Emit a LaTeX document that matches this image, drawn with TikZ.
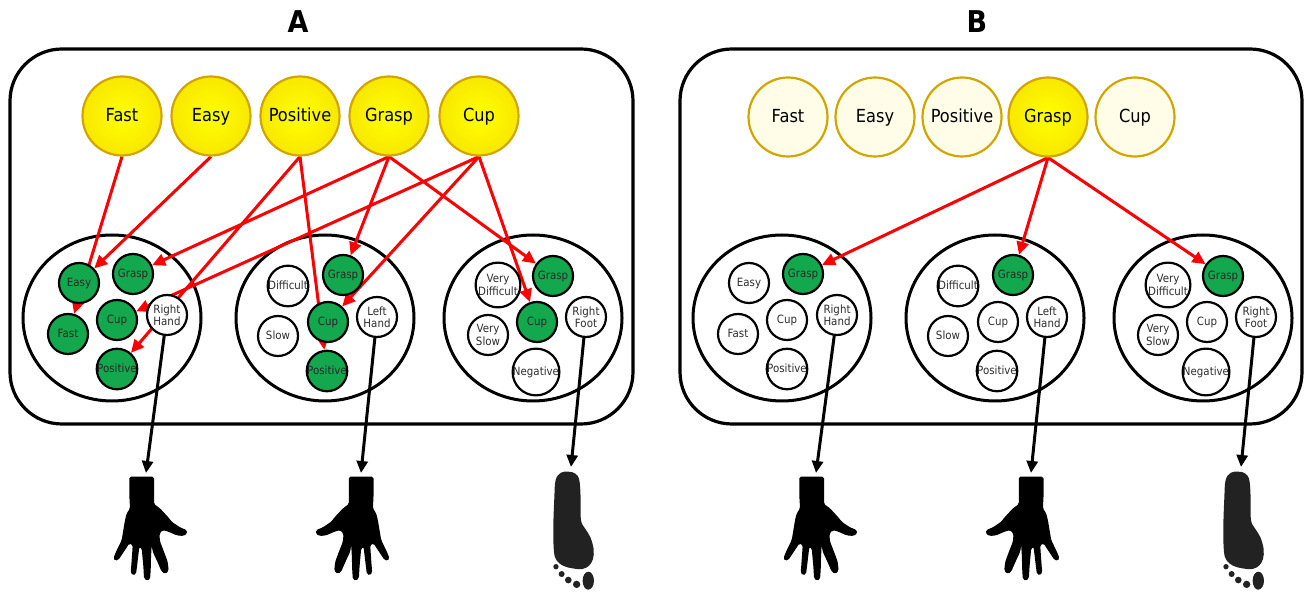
\documentclass[tikz,border=0pt]{standalone}
\usepackage{fontspec}
\setmainfont{DejaVu Sans}[FakeStretch=0.9]
\usetikzlibrary{arrows.meta,shapes.geometric}
\pgfdeclarelayer{back}
\pgfdeclarelayer{mid}
\pgfsetlayers{back,mid,main}
\definecolor{ygold}{RGB}{210,165,0}
\definecolor{yfill}{RGB}{255,255,0}
\definecolor{yedge}{RGB}{248,232,0}
\definecolor{yfade}{RGB}{255,253,232}
\definecolor{gfill}{RGB}{20,168,78}
\definecolor{tgray}{RGB}{45,45,45}
\definecolor{footgray}{RGB}{34,34,34}
\tikzset{
  bigball/.style={circle, draw=ygold, line width=1.1pt, minimum size=39.5pt, inner sep=0pt,
    font=\fontsize{9}{10}\selectfont, text=black, text height=6.6pt, text depth=0.6pt},
  hotball/.style={bigball, inner color=yfill, outer color=yedge},
  fadeball/.style={bigball, fill=yfade},
  smallball/.style={circle, draw=black, line width=1.1pt, minimum size=20pt, inner sep=0pt,
    align=center, font=\fontsize{5.7}{6.1}\selectfont, text=tgray, fill=white},
  oneline/.style={text height=4.1pt, text depth=0.5pt},
  onball/.style={smallball, oneline, fill=gfill, text=black!85},
  redarrow/.style={draw=red, line width=1.5pt, -{Triangle[length=6.5pt,width=6pt]}},
  blackarrow/.style={draw=black, line width=1.5pt, -{Triangle[length=6pt,width=5.5pt]}},
  panel/.style={draw=black, line width=1.6pt, rounded corners=26pt},
  clusterline/.style={draw=black, line width=1.5pt},
  title/.style={font=\bfseries\fontsize{15}{15}\selectfont},
  handpic/.pic={
    \fill[black, rounded corners=0.8pt]
      (-37,0) -- (37,0) -- (37,82) -- (55,95) -- (80,122) -- (90,135) -- (115,152)
      -- (135,160) -- (137,170) -- (125,178) -- (105,176) -- (80,165) -- (63,160)
      -- (53,172) -- (55,195) -- (65,220) -- (78,255) -- (81,282) -- (71,292)
      -- (60,285) -- (47,255) -- (33,225) -- (30,205) -- (28,240) -- (27,280)
      -- (25,308) -- (15,312) -- (7,305) -- (5,270) -- (0,215) -- (-7,210)
      -- (-13,260) -- (-17,292) -- (-27,296) -- (-33,288) -- (-30,250) -- (-27,205)
      -- (-37,200) -- (-50,220) -- (-70,250) -- (-80,252) -- (-85,245) -- (-77,225)
      -- (-60,190) -- (-55,160) -- (-50,130) -- (-45,110) -- (-35,95) -- (-37,60) -- cycle;
  },
  footpic/.pic={
    \fill[footgray] plot[smooth cycle, tension=0.6] coordinates {
      (0,0) (20,5) (33,25) (37,80) (38,145) (50,170) (66,196) (76,232) (74,262)
      (62,282) (42,292) (12,290) (-16,282) (-35,266) (-43,240) (-45,170) (-42,80)
      (-38,25) (-22,3)};
    \fill[footgray] (60,327) ellipse [x radius=17, y radius=27];
    \fill[footgray] (25,338) circle [radius=11];
    \fill[footgray] (0,325) circle [radius=10];
    \fill[footgray] (-20,307) circle [radius=9];
    \fill[footgray] (-37,285) circle [radius=8];
  }
}
\begin{document}
\begin{tikzpicture}[x=0.5pt,y=-0.5pt]
\useasboundingbox (0,0) rectangle (1306,592);

% titles
\node[title] (tA) at (298,22) {A};
\node[title] (tB) at (977,22) {B};

% panels and clusters
\begin{pgfonlayer}{back}
  \draw[panel] (10,49) rectangle (633,424);
  \draw[panel] (680,49) rectangle (1302,424);
  \foreach \cx in {112,325,533,782,995,1203}
    \draw[clusterline] (\cx,318) ellipse [x radius=89, y radius=83];
\end{pgfonlayer}

% ---------- Panel A ----------
\node[hotball] (aFast) at (122,116) {Fast};
\node[hotball] (aEasy) at (211,116) {Easy};
\node[hotball] (aPos)  at (300,116) {Positive};
\node[hotball] (aGrasp) at (389,116) {Grasp};
\node[hotball] (aCup)  at (479,116) {Cup};

% cluster 1
\node[onball] (a1Easy)  at (79,283) {Easy};
\node[onball] (a1Grasp) at (133,274) {Grasp};
\node[onball] (a1Fast)  at (68,334) {Fast};
\node[onball] (a1Cup)   at (117,320) {Cup};
\node[smallball] (a1RH) at (167,315) {Right\\Hand};
\node[onball] (a1Pos)   at (117,369) {Positive};
% cluster 2
\node[smallball, oneline] (a2Diff) at (288,286) {Difficult};
\node[smallball, oneline] (a2Slow) at (278,336) {Slow};
\node[onball] (a2Grasp)   at (343,275) {Grasp};
\node[onball] (a2Cup)     at (328,322) {Cup};
\node[smallball] (a2LH)   at (377,317) {Left\\Hand};
\node[onball] (a2Pos)     at (327,371) {Positive};
% cluster 3
\node[smallball] (a3VD)   at (498,285) {Very\\Difficult};
\node[onball] (a3Grasp)   at (553,276) {Grasp};
\node[smallball] (a3VS)   at (488,335) {Very\\Slow};
\node[onball] (a3Cup)     at (537,322) {Cup};
\node[smallball] (a3RF)   at (586,317) {Right\\Foot};
\node[smallball, oneline] (a3Neg)  at (536,372) {Negative};

\begin{pgfonlayer}{mid}
  \draw[redarrow] (aFast.south) -- (a1Fast);
  \draw[redarrow] (aEasy.south) -- (a1Easy);
  \draw[redarrow] (aPos.south) -- (a1Pos);
  \draw[redarrow] (aPos.south) -- (a2Pos);
  \draw[redarrow] (aGrasp.south) -- (a1Grasp);
  \draw[redarrow] (aGrasp.south) -- (a2Grasp);
  \draw[redarrow] (aGrasp.south) -- (a3Grasp);
  \draw[redarrow] (aCup.south) -- (a1Cup);
  \draw[redarrow] (aCup.south) -- (a2Cup);
  \draw[redarrow] (aCup.south) -- (a3Cup);
\end{pgfonlayer}

% effectors A
\coordinate (ah1) at (146,473);
\coordinate (ah2) at (361,473);
\coordinate (af3) at (571,467);
\draw[blackarrow] (a1RH) -- (ah1);
\draw[blackarrow] (a2LH) -- (ah2);
\draw[blackarrow] (a3RF) -- (af3);
\pic[scale=1/3] at (141.7,476.7) {handpic};
\pic[xscale=-1/3, yscale=1/3] at (361.2,476.7) {handpic};
\pic[scale=1/3] at (568.3,471.7) {footpic};

% ---------- Panel B ----------
\node[fadeball] (bFast) at (788,117) {Fast};
\node[fadeball] (bEasy) at (875,117) {Easy};
\node[fadeball] (bPos)  at (962,117) {Positive};
\node[hotball] (bGrasp) at (1048,117) {Grasp};
\node[fadeball] (bCup)  at (1135,117) {Cup};

% cluster 1
\node[smallball, oneline] (b1Easy) at (749,283) {Easy};
\node[onball] (b1Grasp)   at (803,274) {Grasp};
\node[smallball, oneline] (b1Fast) at (738,334) {Fast};
\node[smallball, oneline] (b1Cup)  at (787,320) {Cup};
\node[smallball] (b1RH)   at (837,315) {Right\\Hand};
\node[smallball, oneline] (b1Pos)  at (787,369) {Positive};
% cluster 2
\node[smallball, oneline] (b2Diff) at (958,286) {Difficult};
\node[smallball, oneline] (b2Slow) at (948,336) {Slow};
\node[onball] (b2Grasp)   at (1013,275) {Grasp};
\node[smallball, oneline] (b2Cup)  at (998,322) {Cup};
\node[smallball] (b2LH)   at (1047,317) {Left\\Hand};
\node[smallball, oneline] (b2Pos)  at (997,371) {Positive};
% cluster 3
\node[smallball] (b3VD)   at (1168,285) {Very\\Difficult};
\node[onball] (b3Grasp)   at (1223,276) {Grasp};
\node[smallball] (b3VS)   at (1158,335) {Very\\Slow};
\node[smallball, oneline] (b3Cup)  at (1207,322) {Cup};
\node[smallball] (b3RF)   at (1256,317) {Right\\Foot};
\node[smallball, oneline] (b3Neg)  at (1206,372) {Negative};

\begin{pgfonlayer}{mid}
  \draw[redarrow] (bGrasp.south) -- (b1Grasp);
  \draw[redarrow] (bGrasp.south) -- (b2Grasp);
  \draw[redarrow] (bGrasp.south) -- (b3Grasp);
\end{pgfonlayer}

% effectors B
\coordinate (bh1) at (816,473);
\coordinate (bh2) at (1031,473);
\coordinate (bf3) at (1241,467);
\draw[blackarrow] (b1RH) -- (bh1);
\draw[blackarrow] (b2LH) -- (bh2);
\draw[blackarrow] (b3RF) -- (bf3);
\pic[scale=1/3] at (811.7,476.7) {handpic};
\pic[xscale=-1/3, yscale=1/3] at (1031.2,476.7) {handpic};
\pic[scale=1/3] at (1238.3,471.7) {footpic};
\end{tikzpicture}
\end{document}
